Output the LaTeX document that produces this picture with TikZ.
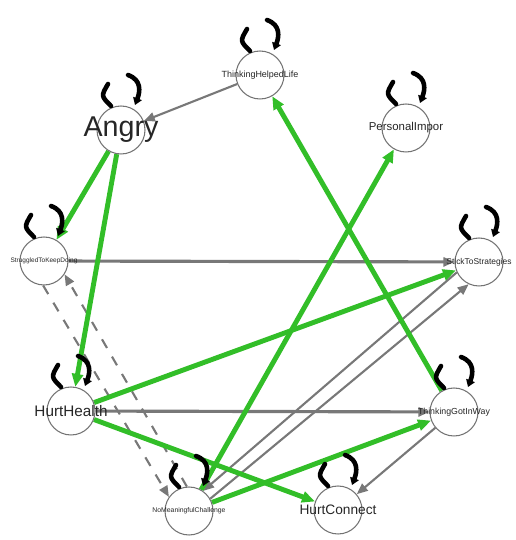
\documentclass[tikz,border=0pt]{standalone}
\usepackage{fontspec}
\setmainfont{Liberation Sans}
\usetikzlibrary{arrows.meta, backgrounds}
\definecolor{posgreen}{RGB}{50,190,40}
\definecolor{edgegray}{RGB}{120,120,120}
\tikzset{
  var/.style={draw=black!55, circle, minimum size=0.96cm, inner sep=0pt, fill=white, line width=0.6pt},
  fs/.style={font=\fontsize{#1}{#1}\selectfont, text=black!85},
  poslink/.style={-{Triangle[length=0.26cm, width=0.22cm]}, line width=2.8pt, draw=posgreen},
  graylink/.style={-{Triangle[length=0.22cm, width=0.18cm]}, line width=1.2pt, draw=edgegray},
  widegray/.style={graylink, line width=1.8pt},
  dashlink/.style={graylink, dash pattern=on 0.2cm off 0.2cm},
  loopline/.style={line width=2.6pt, draw=black, line cap=round}
}
\newcommand{\selfloop}[1]{%
  \draw[loopline] ([shift={(-10,24)}]#1.center) .. controls ([shift={(-20,34)}]#1.center) .. ([shift={(-13,46)}]#1.center);
  \draw[loopline, -{Triangle[length=0.14cm, width=0.18cm]}] ([shift={(7,55)}]#1.center) .. controls ([shift={(21,50)}]#1.center) and ([shift={(19,38)}]#1.center) .. ([shift={(14,25)}]#1.center);
}

\begin{document}
\begin{tikzpicture}[x=0.02cm, y=0.02cm]
\useasboundingbox (0,0) rectangle (515,540);

% variables
\node[var, label={[fs=5.1]center:ThinkingHelpedLife}] (thl) at (260,465) {};
\node[var, label={[fs=16.3]center:Angry}] (angry) at (121,410) {};
\node[var, label={[fs=6.5]center:PersonalImpor}] (pers) at (406,412) {};
\node[var, label={[fs=3.7]center:StruggledToKeepDoing}] (strug) at (44,279) {};
\node[var, label={[fs=4.8]center:StickToStrategies}] (stick) at (479,278) {};
\node[var, label={[fs=8.7]center:HurtHealth}] (hhealth) at (71,129) {};
\node[var, label={[fs=5.0]center:ThinkingGotInWay}] (gotway) at (454,128) {};
\node[var, label={[fs=3.9]center:NoMeaningfulChallenge}] (nomean) at (189,29) {};
\node[var, label={[fs=7.8]center:HurtConnect}] (hconn) at (338,30) {};

\begin{scope}[on background layer]
% gray edges
\draw[graylink] (thl) -- (angry);
\draw[widegray] (strug) -- (stick);
\draw[widegray] (hhealth) -- (gotway);
\draw[graylink] (stick.205) -- (nomean.55);
\draw[graylink] (nomean.30) -- (stick.245);
\draw[graylink] (gotway) -- (hconn);
\draw[dashlink] (strug.268) -- (nomean.145);
\draw[dashlink] (nomean.95) -- (strug.327);
% green edges
\draw[poslink] (angry) -- (strug);
\draw[poslink] (angry) -- (hhealth);
\draw[poslink] (hhealth) -- (stick);
\draw[poslink] (hhealth) -- (hconn);
\draw[poslink] (gotway) -- (thl);
\draw[poslink] (nomean) -- (pers);
\draw[poslink] (nomean) -- (gotway);
\end{scope}

% self loops
\foreach \v in {thl, angry, pers, strug, stick, hhealth, gotway, nomean, hconn}
  {\selfloop{\v}}

\end{tikzpicture}
\end{document}
